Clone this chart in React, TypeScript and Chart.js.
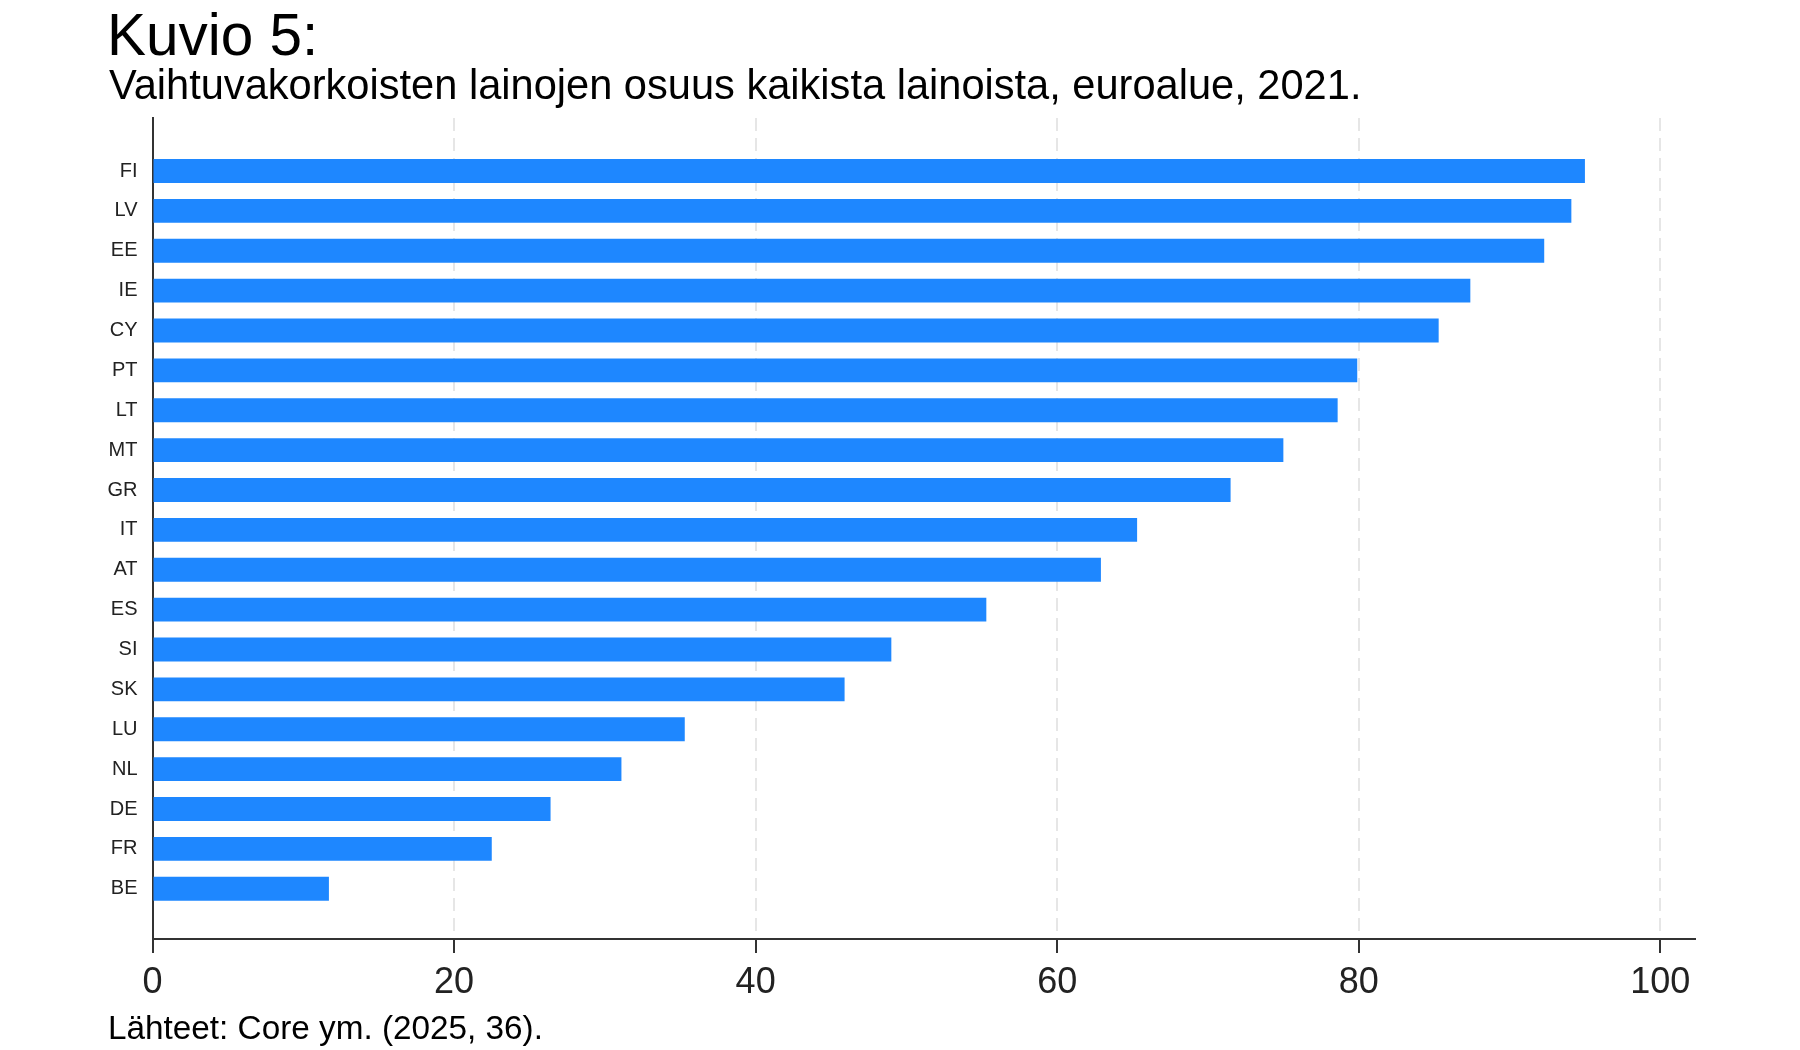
import React, { useEffect, useRef } from 'react';
import { Chart, registerables } from 'chart.js';

Chart.register(...registerables);

const categories = ['FI', 'LV', 'EE', 'IE', 'CY', 'PT', 'LT', 'MT', 'GR', 'IT', 'AT', 'ES', 'SI', 'SK', 'LU', 'NL', 'DE', 'FR', 'BE'];
const shares = [95.0, 94.1, 92.3, 87.4, 85.3, 79.9, 78.6, 75.0, 71.5, 65.3, 62.9, 55.3, 49.0, 45.9, 35.3, 31.1, 26.4, 22.5, 11.7];
const xTicks = [0, 20, 40, 60, 80, 100];
const titleText = 'Kuvio 5:';
const subtitleText = 'Vaihtuvakorkoisten lainojen osuus kaikista lainoista, euroalue, 2021.';
const sourceText = 'Lähteet: Core ym. (2025, 36).';

const FONT = '"Liberation Sans", Arial, Helvetica, sans-serif';

const textPlugin = {
  id: 'pageTexts',
  afterDraw(chart: any) {
    const ctx = chart.ctx;
    ctx.save();
    ctx.fillStyle = '#000';
    ctx.textAlign = 'left';
    ctx.textBaseline = 'alphabetic';
    ctx.font = `58.5px ${FONT}`;
    ctx.fillText(titleText, 107, 55);
    ctx.font = `41.6px ${FONT}`;
    ctx.fillText(subtitleText, 109, 99);
    ctx.font = `33.3px ${FONT}`;
    ctx.fillText(sourceText, 108, 1039);
    ctx.restore();
  },
};

export default function App() {
  const ref = useRef<HTMLCanvasElement | null>(null);

  useEffect(() => {
    if (!ref.current) return;
    const chart = new Chart(ref.current, {
      type: 'bar',
      data: {
        datasets: [
          {
            data: categories.map((c, i) => ({ x: shares[i], y: i })) as any,
            backgroundColor: '#1E87FF',
            borderWidth: 0,
            barPercentage: 0.6,
            categoryPercentage: 1,
          },
        ],
      },
      options: {
        indexAxis: 'y',
        animation: false,
        responsive: false,
        layout: { padding: { top: 118, right: 105, left: 0, bottom: 0 } },
        plugins: {
          legend: { display: false },
          tooltip: { enabled: false },
          title: { display: false },
        },
        scales: {
          x: {
            type: 'linear',
            position: 'bottom',
            min: 0,
            max: 102.3,
            offset: false,
            afterFit: (s: any) => {
              s.height = 111;
            },
            afterBuildTicks: (s: any) => {
              s.ticks = xTicks.map((v) => ({ value: v }));
            },
            ticks: {
              font: { family: FONT, size: 36 },
              color: '#222',
              padding: 8,
              maxRotation: 0,
              includeBounds: false,
            },
            grid: {
              offset: false,
              color: (ctx: any) => (ctx.tick && ctx.tick.value === 0 ? 'rgba(0,0,0,0)' : '#e6e6e6'),
              lineWidth: 2,
              tickColor: '#333',
              tickWidth: 2,
              tickLength: 14,
              tickBorderDash: [],
            } as any,
            border: { display: true, color: '#333', width: 2, dash: [13, 7] },
          },
          y: {
            type: 'linear',
            reverse: true,
            offset: false,
            min: -1.33,
            max: categories.length - 1 + 1.26,
            afterFit: (s: any) => {
              s.width = 152.5;
            },
            afterBuildTicks: (s: any) => {
              s.ticks = categories.map((_, i) => ({ value: i }));
            },
            ticks: {
              callback: (v: any) => categories[v as number] ?? '',
              font: { family: FONT, size: 20 },
              color: '#222',
              padding: 15,
              autoSkip: false,
            },
            grid: { display: false, drawTicks: false, offset: false },
            border: { display: true, color: '#333', width: 2 },
          },
        },
      },
      plugins: [textPlugin],
    });
    return () => chart.destroy();
  }, []);

  return (
    <div style={{ position: 'absolute', left: 0, top: 0, width: 1800, height: 1050, background: '#fff' }}>
      <canvas ref={ref} width={1800} height={1050} style={{ display: 'block' }} />
    </div>
  );
}
